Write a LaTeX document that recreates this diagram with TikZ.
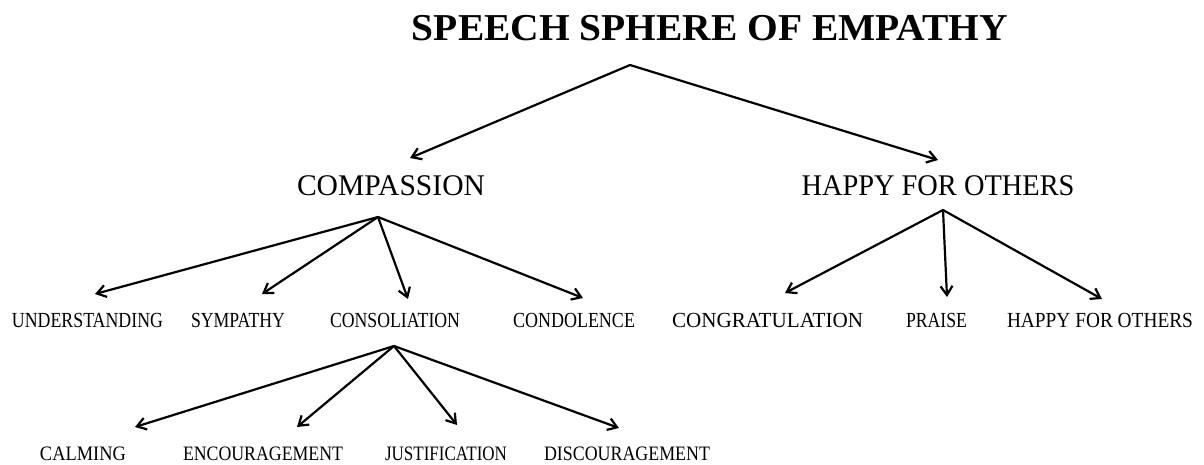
\documentclass[tikz,border=0pt]{standalone}
\usepackage{fontspec}
\setmainfont{Liberation Serif}
\usepackage{graphicx}
\usetikzlibrary{arrows.meta}
\newcommand{\fitw}[2]{\resizebox{#1pt}{\height}{#2}}
\tikzset{
  lbl/.style={inner sep=0pt, anchor=base, text=black},
  ttl/.style={lbl, font=\fontsize{38}{40}\selectfont\bfseries},
  mid/.style={lbl, font=\fontsize{30}{32}\selectfont},
  leaf/.style={lbl, font=\fontsize{21.5}{24}\selectfont},
  leafb/.style={lbl, font=\fontsize{20.5}{23}\selectfont},
  arr/.style={draw=black, line width=2.2pt, line cap=round, -{Straight Barb[length=9pt,width=12pt,line width=2.2pt]}}
}
\begin{document}
\begin{tikzpicture}[x=1pt,y=-1pt]
\useasboundingbox[fill=white] (0,0) rectangle (1204,464);
% texts
\node[ttl] (root) at (710,40) {\fitw{596}{SPEECH SPHERE OF EMPATHY}};
\node[mid] (comp) at (391,195) {\fitw{188}{COMPASSION}};
\node[mid] (happy) at (938,195) {\fitw{273}{HAPPY FOR OTHERS}};
\node[leaf] (und) at (87.5,327) {\fitw{151}{UNDERSTANDING}};
\node[leaf] (sym) at (238,327) {\fitw{94}{SYMPATHY}};
\node[leaf] (cons) at (395,327) {\fitw{130}{CONSOLIATION}};
\node[leaf] (cond) at (574,327) {\fitw{122}{CONDOLENCE}};
\node[leaf] (congr) at (767.5,327) {\fitw{191}{CONGRATULATION}};
\node[leaf] (praise) at (936.5,327) {\fitw{61}{PRAISE}};
\node[leaf] (hfo) at (1100,327) {\fitw{186}{HAPPY FOR OTHERS}};
\node[leafb] (calm) at (83,460) {\fitw{86}{CALMING}};
\node[leafb] (enc) at (263,460) {\fitw{160}{ENCOURAGEMENT}};
\node[leafb] (just) at (446,460) {\fitw{122}{JUSTIFICATION}};
\node[leafb] (disc) at (627,460) {\fitw{166}{DISCOURAGEMENT}};
% branch points
\coordinate (rootfork) at (630,65);
\coordinate (compfork) at (378,217);
\coordinate (happyfork) at (943,210);
\coordinate (consfork) at (394,346);
% arrow tips
\coordinate (t-comp) at (410,158);
\coordinate (t-happy) at (938,160);
\coordinate (t-und) at (95,294);
\coordinate (t-sym) at (262,294);
\coordinate (t-cons) at (408,299);
\coordinate (t-cond) at (583,298);
\coordinate (t-congr) at (785,293);
\coordinate (t-praise) at (947,297);
\coordinate (t-hfo) at (1102,299);
\coordinate (t-calm) at (135,427);
\coordinate (t-enc) at (297,427);
\coordinate (t-just) at (457,425);
\coordinate (t-disc) at (619,428);
% connectors
\draw[arr] (rootfork) -- (t-comp);
\draw[arr] (rootfork) -- (t-happy);
\draw[arr] (compfork) -- (t-und);
\draw[arr] (compfork) -- (t-sym);
\draw[arr] (compfork) -- (t-cons);
\draw[arr] (compfork) -- (t-cond);
\draw[arr] (happyfork) -- (t-congr);
\draw[arr] (happyfork) -- (t-praise);
\draw[arr] (happyfork) -- (t-hfo);
\draw[arr] (consfork) -- (t-calm);
\draw[arr] (consfork) -- (t-enc);
\draw[arr] (consfork) -- (t-just);
\draw[arr] (consfork) -- (t-disc);
\end{tikzpicture}
\end{document}
